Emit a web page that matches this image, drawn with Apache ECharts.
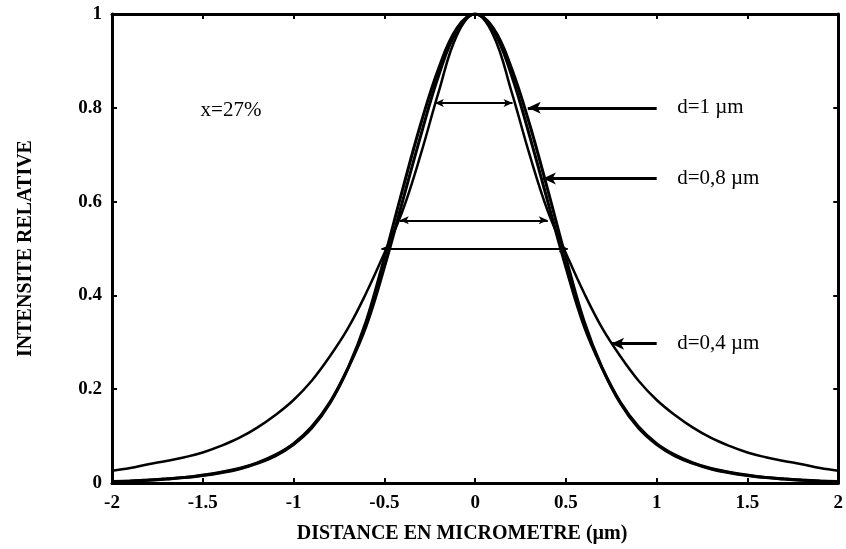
<!DOCTYPE html>
<html><head><meta charset="utf-8">
<script src="https://cdn.jsdelivr.net/npm/echarts@6/dist/echarts.min.js"></script>
<style>html,body{margin:0;padding:0;background:#fff}#c{width:846px;height:549px}</style>
</head><body><div id="c"></div>
<script>
// ---- data ----
const xValues = [-2.0,-1.9,-1.8,-1.7,-1.6,-1.5,-1.4,-1.3,-1.2,-1.1,-1.0,-0.9,-0.8,-0.7,-0.6,-0.5,-0.4,-0.3,-0.2,-0.1,0.0,
                 0.1,0.2,0.3,0.4,0.5,0.6,0.7,0.8,0.9,1.0,1.1,1.2,1.3,1.4,1.5,1.6,1.7,1.8,1.9,2.0];
const curveD1  = [0.003,0.0045,0.0065,0.009,0.012,0.017,0.023,0.031,0.043,0.060,0.084,0.12,0.172,0.245,0.335,0.46,0.60,0.74,0.87,0.965,1.0,
                  0.965,0.87,0.74,0.60,0.46,0.335,0.245,0.172,0.12,0.084,0.060,0.043,0.031,0.023,0.017,0.012,0.009,0.0065,0.0045,0.003];
const curveD08 = [0.0028,0.004,0.006,0.0085,0.0115,0.016,0.022,0.030,0.042,0.058,0.082,0.117,0.17,0.245,0.345,0.48,0.625,0.765,0.885,0.97,1.0,
                  0.97,0.885,0.765,0.625,0.48,0.345,0.245,0.17,0.117,0.082,0.058,0.042,0.030,0.022,0.016,0.0115,0.0085,0.006,0.004,0.0028];
const curveD04 = [0.026,0.032,0.040,0.047,0.055,0.065,0.079,0.096,0.118,0.145,0.177,0.218,0.27,0.33,0.405,0.49,0.58,0.70,0.835,0.955,1.0,
                  0.955,0.835,0.70,0.58,0.49,0.405,0.33,0.27,0.218,0.177,0.145,0.118,0.096,0.079,0.065,0.055,0.047,0.040,0.032,0.026];
// horizontal width markers (double arrows): level, left end, right end
const widthLevels = [0.81, 0.56, 0.50];
const widthLeft   = [-0.222, -0.415, -0.516];
const widthRight  = [0.206, 0.40, 0.51];
// pointer arrows with their labels
const pointerLabels = ['d=1 \u00b5m', 'd=0,8 \u00b5m', 'd=0,4 \u00b5m'];
const pointerLevels = [0.80, 0.649, 0.297];
const pointerTips   = [0.29, 0.373, 0.749];
const pointerTails  = [1.0, 1.0, 1.0];
const pointerTextX  = [1.11, 1.11, 1.11];
const noteLabel = 'x=27%';
const noteX = -1.515, noteY = 0.795;
const xTitle = 'DISTANCE EN MICROMETRE (\u00b5m)';
const yTitle = 'INTENSITE RELATIVE';

// ---- chart ----
const serif = '"Liberation Serif", "DejaVu Serif", serif';
const pair = ys => xValues.map((x, i) => [x, ys[i]]);
const axisLineStyle = {onZero: false, lineStyle: {color: '#000', width: 3}};
const tickStyle = {inside: true, length: 5, lineStyle: {color: '#000', width: 2}};
const tickLabel = {color: '#000', fontFamily: serif, fontWeight: 'bold', fontSize: 19};

const chart = echarts.init(document.getElementById('c'), null, {renderer: 'canvas'});

const curve = (name, ys, w) => ({
  name, type: 'line', data: pair(ys), showSymbol: false, smooth: 0.4,
  lineStyle: {color: '#000', width: w}, silent: true, z: 2
});

chart.setOption({
  animation: false,
  backgroundColor: '#fff',
  grid: {left: 112, right: 7, top: 14, bottom: 65},
  xAxis: [
    {type: 'value', min: -2, max: 2, interval: 0.5, position: 'bottom',
     axisLine: axisLineStyle, axisTick: tickStyle, splitLine: {show: false},
     axisLabel: Object.assign({margin: 11}, tickLabel),
     name: xTitle, nameLocation: 'middle', nameGap: 41, nameMoveOverlap: false,
     nameTextStyle: {color: '#000', fontFamily: serif, fontWeight: 'bold', fontSize: 20, padding: [0, 26, 0, 0]}},
    {type: 'value', min: -2, max: 2, interval: 0.5, position: 'top',
     axisLine: axisLineStyle, axisTick: tickStyle, splitLine: {show: false},
     axisLabel: {show: false}}
  ],
  yAxis: [
    {type: 'value', min: 0, max: 1, interval: 0.2, position: 'left',
     axisLine: axisLineStyle, axisTick: tickStyle, splitLine: {show: false},
     axisLabel: Object.assign({margin: 10}, tickLabel),
     name: yTitle, nameLocation: 'middle', nameGap: 76, nameMoveOverlap: false,
     nameTextStyle: {color: '#000', fontFamily: serif, fontWeight: 'bold', fontSize: 20}},
    {type: 'value', min: 0, max: 1, interval: 0.2, position: 'right',
     axisLine: axisLineStyle, axisTick: tickStyle, splitLine: {show: false},
     axisLabel: {show: false}}
  ],
  series: [
    curve('d=1', curveD1, 3),
    curve('d=0,8', curveD08, 3),
    curve('d=0,4', curveD04, 2.5),
    {
      name: 'annotations', type: 'line', data: [], silent: true, z: 5,
      markLine: {
        silent: true, animation: false,
        label: {show: false},
        data: widthLevels.map((y, i) => [
          {coord: [widthLeft[i], y], symbol: 'arrow', symbolSize: [6, 9], lineStyle: {color: '#000', width: 2, type: 'solid'}},
          {coord: [widthRight[i], y], symbol: 'arrow', symbolSize: [6, 9]}
        ]).concat(pointerLevels.map((y, i) => [
          {coord: [pointerTails[i], y], symbol: 'none', lineStyle: {color: '#000', width: 3, type: 'solid'}},
          {coord: [pointerTips[i], y], symbol: 'arrow', symbolSize: [9, 13]}
        ]))
      },
      markPoint: {
        silent: true, animation: false, symbol: 'circle', symbolSize: 1,
        itemStyle: {color: 'rgba(0,0,0,0)'},
        label: {show: true, position: 'right', distance: 0, color: '#000', fontFamily: serif, fontSize: 21,
                formatter: p => p.name},
        data: pointerLevels.map((y, i) => ({name: pointerLabels[i], coord: [pointerTextX[i], y]}))
          .concat([{name: noteLabel, coord: [noteX, noteY]}])
      }
    }
  ]
});
</script></body></html>
